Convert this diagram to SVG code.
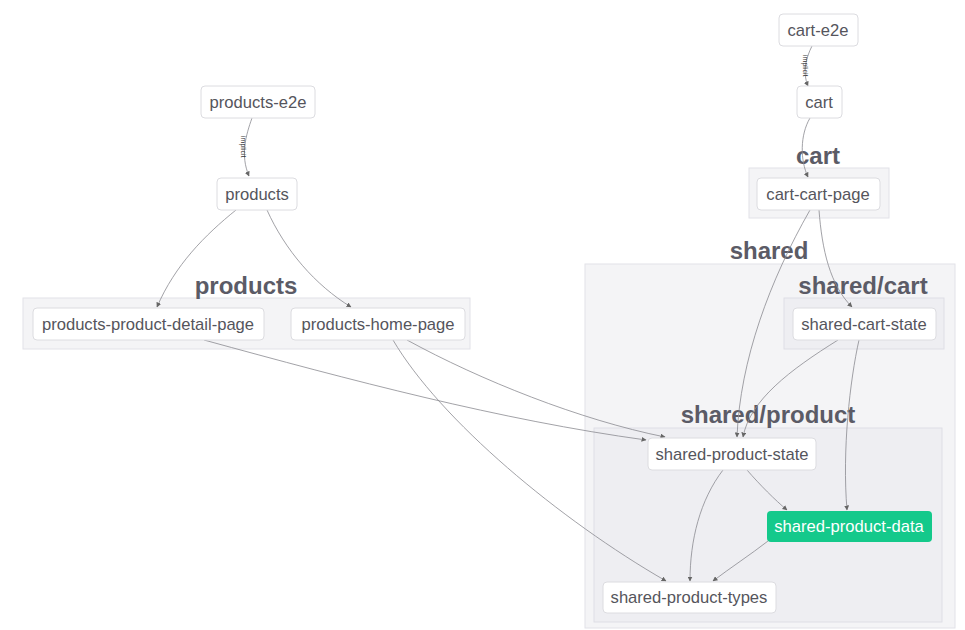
<svg xmlns="http://www.w3.org/2000/svg" width="965" height="630" viewBox="0 0 965 630">
<defs>
<style>
.cl{fill:#f4f4f6;stroke:#e2e2e8;stroke-width:1}
.cl2{fill:#eeeef2;stroke:#dedee5;stroke-width:1}
.cll{font-family:"Liberation Sans",Arial,sans-serif;font-weight:bold;font-size:24px;fill:#5b5b66;text-anchor:middle}
.nd{fill:#fff;stroke:#dcdce0;stroke-width:1}
.nt{font-family:"Liberation Sans",Arial,sans-serif;font-size:16.6px;fill:#55555c;text-anchor:middle}
.e{fill:none;stroke:#8a8a90;stroke-width:0.8;marker-end:url(#ah)}
.el{font-family:"Liberation Sans",Arial,sans-serif;font-size:7px;fill:#333}
</style>
<marker id="ah" viewBox="0 0 10 10" refX="9" refY="5" markerWidth="5" markerHeight="5" orient="auto" markerUnits="userSpaceOnUse">
<path d="M0,0 L10,5 L0,10 z" fill="#666"/>
</marker>
</defs>
<rect width="965" height="630" fill="#fff"/>
<g id="clusters">
<g id="cluster-cart"><rect class="cl" x="749" y="168" width="140" height="50"/><text class="cll" x="818" y="164">cart</text></g>
<g id="cluster-products"><rect class="cl" x="23" y="298" width="447" height="51"/><text class="cll" x="246" y="294">products</text></g>
<g id="cluster-shared"><rect class="cl" x="585" y="264" width="370" height="364"/><text class="cll" x="769" y="259">shared</text></g>
<g id="cluster-shared-cart"><rect class="cl2" x="784" y="298" width="160" height="51"/><text class="cll" x="863" y="294">shared/cart</text></g>
<g id="cluster-shared-product"><rect class="cl2" x="594" y="428" width="348" height="194"/><text class="cll" x="768" y="423">shared/product</text></g>
</g>
<g id="edges">
<path class="e" d="M252,118 C246,135 240,155 249,176"/>
<text class="el" transform="translate(241,136) rotate(90)">implicit</text>
<path class="e" d="M812,46 C806,58 802,72 808,86"/>
<text class="el" transform="translate(803,55) rotate(90)">implicit</text>
<path class="e" d="M810,118 C800,135 800,160 808,177"/>
<path class="e" d="M236,210 C205,235 175,265 157,307"/>
<path class="e" d="M267,210 C285,250 315,285 351,307"/>
<path class="e" d="M819,210 C822,250 830,285 852,307"/>
<path class="e" d="M810,210 C770,280 740,360 737,437"/>
<path class="e" d="M838,340 C790,370 750,400 743,437"/>
<path class="e" d="M859,340 C850,380 842,450 847,510"/>
<path class="e" d="M204,340 C350,380 500,420 646,440"/>
<path class="e" d="M407,340 C480,380 580,420 665,437"/>
<path class="e" d="M393,340 C440,420 560,520 666,581"/>
<path class="e" d="M723,470 C700,500 690,540 690,581"/>
<path class="e" d="M747,470 C760,485 775,500 787,510"/>
<path class="e" d="M768,541 C750,555 730,568 713,581"/>
</g>
<g id="node-products-e2e"><rect class="nd" x="201" y="86" width="114" height="32" rx="4"/><text class="nt" x="258" y="108">products-e2e</text></g>
<g id="node-products"><rect class="nd" x="217" y="178" width="80" height="32" rx="4"/><text class="nt" x="257" y="200">products</text></g>
<g id="node-cart-e2e"><rect class="nd" x="779" y="14" width="79" height="32" rx="4"/><text class="nt" x="818" y="36">cart-e2e</text></g>
<g id="node-cart"><rect class="nd" x="797" y="86" width="45" height="32" rx="4"/><text class="nt" x="819" y="108">cart</text></g>
<g id="node-cart-cart-page"><rect class="nd" x="757" y="178" width="123" height="32" rx="4"/><text class="nt" x="818" y="200">cart-cart-page</text></g>
<g id="node-products-product-detail-page"><rect class="nd" x="33" y="308" width="231" height="32" rx="4"/><text class="nt" x="148" y="330">products-product-detail-page</text></g>
<g id="node-products-home-page"><rect class="nd" x="291" y="308" width="174" height="32" rx="4"/><text class="nt" x="378" y="330">products-home-page</text></g>
<g id="node-shared-cart-state"><rect class="nd" x="793" y="308" width="143" height="32" rx="4"/><text class="nt" x="864" y="330">shared-cart-state</text></g>
<g id="node-shared-product-state"><rect class="nd" x="648" y="438" width="168" height="32" rx="4"/><text class="nt" x="732" y="460">shared-product-state</text></g>
<g id="node-shared-product-data"><rect x="767" y="511" width="165" height="31" rx="4" fill="#14c98b"/><text class="nt" x="849" y="532" style="fill:#fff">shared-product-data</text></g>
<g id="node-shared-product-types"><rect class="nd" x="603" y="582" width="173" height="31" rx="4"/><text class="nt" x="689" y="603">shared-product-types</text></g>
</svg>
